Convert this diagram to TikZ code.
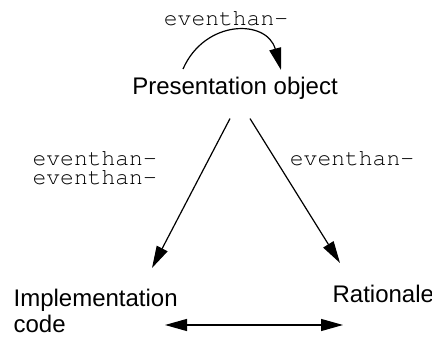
\documentclass[tikz,border=0pt]{standalone}
\usepackage{fontspec}
\setsansfont{Liberation Sans}
\usetikzlibrary{calc,arrows.meta}

\begin{document}
\begin{tikzpicture}[x=0.5pt,y=-0.5pt,line width=0.6pt]
\tikzset{>={Triangle[length=11pt,width=6pt]}}
\tikzset{lbl/.style={font=\sffamily\fontsize{12}{13}\selectfont,inner sep=0pt},
  code/.style={font=\fontencoding{T1}\fontfamily{pcr}\fontsize{11.5}{9.5}\selectfont,inner sep=0pt}}
  \useasboundingbox (0,0) rectangle (432,340);
  \node[lbl,anchor=base] (pres) at (235,95) {Presentation object};
  \node[code,anchor=base] (ev) at (226,26) {eventhan-};
  \node[lbl,anchor=base west,align=left] (impl) at (13,333) {Implementation\\code};
  \node[lbl,anchor=base west] (rat) at (332,303) {Rationale};
  \node[code,anchor=base west,align=left] (ll) at (32,185) {eventhan-\\eventhan-};
  \node[code,anchor=base] (rl) at (352,166) {eventhan-};
  \draw[->] ($(pres.north)+(-52,-8)$) .. controls +(22,-50) and +(-14,-51) .. ($(pres.north)+(46,-7)$);
  \draw[->] ($(pres.south)+(-5,18)$) -- ($(impl.base west)+(139,-65)$);
  \draw[->] ($(pres.south)+(15,18)$) -- ($(rat.base west)+(8,-40)$);
  \draw[<->] ($(impl.base west)+(152,-8)$) -- ($(rat.base west)+(11,22)$);
\end{tikzpicture}
\end{document}
